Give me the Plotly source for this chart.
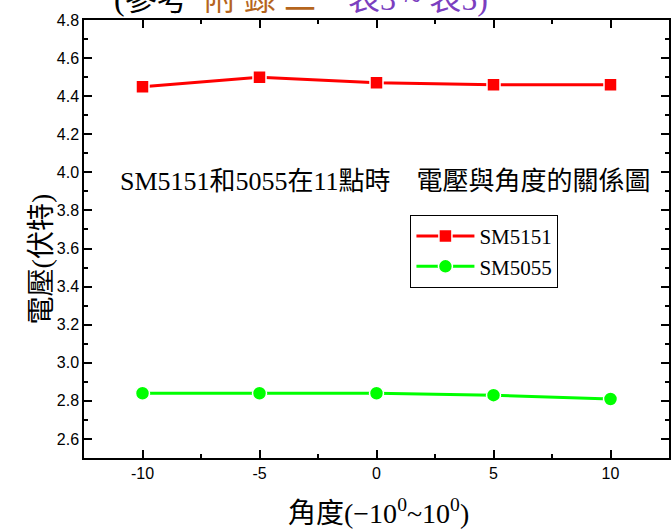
import plotly.graph_objects as go

angles = [-10, -5, 0, 5, 10]
sm5151 = [4.45, 4.50, 4.47, 4.46, 4.46]
sm5055 = [2.84, 2.84, 2.84, 2.83, 2.81]
x_ticks = [-10, -5, 0, 5, 10]
x_labels = ["-10", "-5", "0", "5", "10"]
y_ticks = [2.6, 2.8, 3.0, 3.2, 3.4, 3.6, 3.8, 4.0, 4.2, 4.4, 4.6, 4.8]

SERIF = "'Liberation Serif', 'Noto Sans CJK TC', serif"
CJK = "'Liberation Serif', 'Noto Sans CJK TC', sans-serif"

fig = go.Figure()
fig.add_trace(go.Scatter(
    x=angles, y=sm5151, name="SM5151", mode="lines+markers",
    line=dict(color="#FF0000", width=3),
    marker=dict(symbol="square", size=13, color="#FF0000", line=dict(color="white", width=1.5)),
))
fig.add_trace(go.Scatter(
    x=angles, y=sm5055, name="SM5055", mode="lines+markers",
    line=dict(color="#00FF00", width=3),
    marker=dict(symbol="circle", size=14, color="#00FF00", line=dict(color="white", width=1.5)),
))

axis_common = dict(
    showline=True, linecolor="black", linewidth=1.5, mirror="allticks",
    ticks="inside", ticklen=8, tickwidth=1.5, tickcolor="black",
    showgrid=False, zeroline=False,
    tickfont=dict(family="'Liberation Sans', Arial, sans-serif", size=16, color="black"),
)

fig.update_xaxes(range=[-12.5, 12.5], tickvals=x_ticks, ticktext=x_labels,
                 minor=dict(dtick=2.5, tick0=0, ticks="inside", ticklen=4, tickwidth=1.5, tickcolor="black"),
                 **axis_common)
fig.update_yaxes(range=[2.5, 4.8], tickvals=y_ticks, tickformat=".1f",
                 minor=dict(dtick=0.1, tick0=0, ticks="inside", ticklen=4, tickwidth=1.5, tickcolor="black"),
                 **axis_common)

# in-plot title
fig.add_annotation(x=0.516, y=0.632, xref="paper", yref="paper",
                   text="SM5151和5055在11點時　電壓與角度的關係圖", showarrow=False,
                   font=dict(family=CJK, size=26, color="black"))
# y-axis title
fig.add_annotation(x=-0.103, y=0.454, xref="paper", yref="paper", textangle=-90,
                   text="電壓(伏特)", showarrow=False,
                   font=dict(family=CJK, size=28, color="black"))
# x-axis title
fig.add_annotation(x=0.504, y=-0.122, xref="paper", yref="paper", yanchor="middle",
                   text="角度(−10<sup>0</sup>~10<sup>0</sup>)", showarrow=False,
                   font=dict(family=CJK, size=28, color="black"))
# clipped caption at the very top
top_y = 1.048
fig.add_annotation(x=(112 - 84) / 587.5, y=top_y, xref="paper", yref="paper",
                   xanchor="left", yanchor="middle", text="(參考", showarrow=False,
                   font=dict(family=CJK, size=32, color="black"))
fig.add_annotation(x=(261 - 84) / 587.5, y=top_y, xref="paper", yref="paper",
                   xanchor="center", yanchor="middle", text="附 錄 二", showarrow=False,
                   font=dict(family=CJK, size=32, color="#B5651D"))
fig.add_annotation(x=(347 - 84) / 587.5, y=top_y, xref="paper", yref="paper",
                   xanchor="left", yanchor="middle", text="表3 ~ 表5)", showarrow=False,
                   font=dict(family=CJK, size=32, color="#7B3FBF"))

fig.update_layout(
    width=672, height=531,
    margin=dict(l=84, r=1, t=20, b=73),
    paper_bgcolor="white", plot_bgcolor="white",
    showlegend=True,
    legend=dict(x=0.558, y=0.555, xanchor="left", yanchor="top",
                bordercolor="black", borderwidth=1, bgcolor="white",
                font=dict(family=SERIF, size=21, color="black"),
                tracegroupgap=0, itemwidth=58),
)

fig.write_html("out.html")
